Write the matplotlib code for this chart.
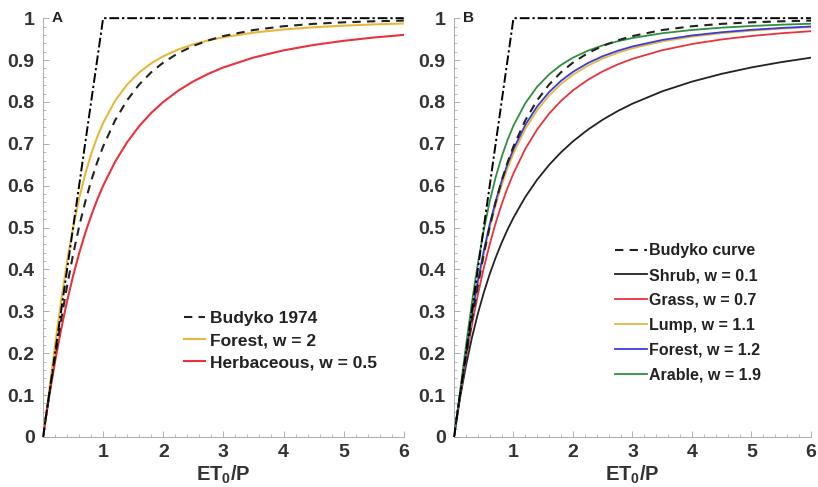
import numpy as np
import matplotlib
matplotlib.use('Agg')
import matplotlib.pyplot as plt
from matplotlib.ticker import MultipleLocator, FixedLocator

plt.rcParams['font.family'] = ['Liberation Sans', 'DejaVu Sans']
plt.rcParams['mathtext.fontset'] = 'custom'
plt.rcParams['mathtext.bf'] = 'Liberation Sans:bold'
plt.rcParams['mathtext.rm'] = 'Liberation Sans:bold'

# ET0/P values where the curves were read
phi = [0, 0.05, 0.1, 0.2, 0.3, 0.4, 0.5, 0.6, 0.7, 0.8, 0.9, 1.0, 1.2, 1.4,
       1.6, 1.8, 2.0, 2.25, 2.5, 2.75, 3.0, 3.5, 4.0, 4.5, 5.0, 5.5, 6.0]

# energy / water limit
limit_x = [0, 1, 6]
limit_y = [0, 1, 1]

budyko = [0, 0.0494, 0.0976, 0.1904, 0.2785, 0.3607, 0.4355, 0.5021, 0.5605,
          0.6113, 0.6555, 0.6938, 0.7564, 0.8044, 0.8417, 0.8709, 0.8940,
          0.9166, 0.9338, 0.9470, 0.9573, 0.9717, 0.9807, 0.9864, 0.9901,
          0.9925, 0.9942]

# panel A
forest_a = [0, 0.0521, 0.1071, 0.2188, 0.3243, 0.4186, 0.5000, 0.5690, 0.6269,
            0.6753, 0.7159, 0.7500, 0.8031, 0.8418, 0.8705, 0.8922, 0.9091,
            0.9252, 0.9375, 0.9470, 0.9545, 0.9655, 0.9730, 0.9783, 0.9821,
            0.9851, 0.9873]
herb_a = [0, 0.0488, 0.0950, 0.1803, 0.2565, 0.3243, 0.3846, 0.4382, 0.4859,
          0.5283, 0.5662, 0.6000, 0.6575, 0.7041, 0.7423, 0.7738, 0.8000,
          0.8270, 0.8491, 0.8672, 0.8824, 0.9059, 0.9231, 0.9360, 0.9459,
          0.9538, 0.9600]

# panel B
shrub = [0, 0.0478, 0.0917, 0.1694, 0.2361, 0.2938, 0.3443, 0.3888, 0.4282,
         0.4635, 0.4952, 0.5238, 0.5734, 0.6148, 0.6499, 0.6799, 0.7059,
         0.7338, 0.7576, 0.7781, 0.7959, 0.8253, 0.8485, 0.8671, 0.8824,
         0.8950, 0.9057]
grass = [0, 0.0492, 0.0967, 0.1857, 0.2663, 0.3386, 0.4030, 0.4600, 0.5105,
         0.5552, 0.5946, 0.6296, 0.6883, 0.7349, 0.7723, 0.8027, 0.8276,
         0.8528, 0.8730, 0.8894, 0.9029, 0.9235, 0.9383, 0.9492, 0.9574,
         0.9639, 0.9689]
lump = [0, 0.0501, 0.0999, 0.1961, 0.2852, 0.3655, 0.4366, 0.4990, 0.5534,
        0.6006, 0.6417, 0.6774, 0.7357, 0.7805, 0.8154, 0.8429, 0.8649,
        0.8866, 0.9036, 0.9171, 0.9281, 0.9443, 0.9558, 0.9640, 0.9701,
        0.9749, 0.9785]
forest_b = [0, 0.0503, 0.1007, 0.1987, 0.2898, 0.3719, 0.4444, 0.5079, 0.5629,
            0.6106, 0.6518, 0.6875, 0.7454, 0.7896, 0.8237, 0.8505, 0.8718,
            0.8928, 0.9091, 0.9220, 0.9324, 0.9479, 0.9587, 0.9664, 0.9722,
            0.9766, 0.9801]
arable = [0, 0.0519, 0.1063, 0.2163, 0.3202, 0.4131, 0.4937, 0.5622, 0.6199,
          0.6684, 0.7092, 0.7436, 0.7974, 0.8367, 0.8660, 0.8883, 0.9057,
          0.9223, 0.9350, 0.9448, 0.9526, 0.9640, 0.9718, 0.9773, 0.9813,
          0.9844, 0.9867]

yellow = '#e6b93c'
red = '#e8323c'
blue = '#3a3ae0'
green = '#2f8f3f'
axcol = '#a0a0a0'
txtcol = '#333333'

fig = plt.figure(figsize=(8.18, 4.87), dpi=100)
axA = fig.add_axes([0.0526, 0.1027, 0.441, 0.860])
axB = fig.add_axes([0.555, 0.1027, 0.4364, 0.860])


def style(ax, letter):
    ax.set_xlim(0, 6)
    ax.set_ylim(0, 1)
    for s in ['top', 'right']:
        ax.spines[s].set_visible(False)
    for s in ['left', 'bottom']:
        ax.spines[s].set_color(axcol)
        ax.spines[s].set_linewidth(0.6)
    ax.xaxis.set_major_locator(FixedLocator([1, 2, 3, 4, 5, 6]))
    ax.xaxis.set_minor_locator(MultipleLocator(0.2))
    ax.yaxis.set_minor_locator(MultipleLocator(0.02))
    ax.set_yticks(np.arange(0, 1.01, 0.1))
    ax.set_yticklabels(['0', '0.1', '0.2', '0.3', '0.4', '0.5', '0.6', '0.7',
                        '0.8', '0.9', '1'])
    ax.tick_params(which='major', direction='in', length=4, width=0.6,
                   color=axcol, labelsize=14, labelcolor=txtcol, pad=6)
    ax.tick_params(axis='x', which='major', pad=5)
    ax.tick_params(which='minor', direction='in', length=2, width=0.5,
                   color=axcol)
    for lab in ax.get_xticklabels() + ax.get_yticklabels():
        lab.set_fontweight('bold')
    ax.set_xlabel(r'$\mathbf{ET_0/P}$', fontsize=14.5, color=txtcol, labelpad=2)
    ax.text(0.025, 1.0, letter, transform=ax.transAxes, fontsize=11,
            fontweight='bold', color='#222222', va='center', ha='left')
    ax.plot(limit_x, limit_y, color='black', lw=1.4, ls=(0, (5, 1.5, 1.2, 1.5)),
            clip_on=False, zorder=5)


style(axA, 'A')
axA.plot(phi, budyko, color='#222222', lw=1.5, ls=(0, (4, 3)), label='Budyko 1974', zorder=4)
axA.plot(phi, forest_a, color=yellow, lw=1.5, label='Forest, w = 2', zorder=3)
axA.plot(phi, herb_a, color=red, lw=1.5, label='Herbaceous, w = 0.5', zorder=3)
legA = axA.legend(loc='upper left', bbox_to_anchor=(0.366, 0.322), frameon=False,
                  fontsize=12.5, handlelength=1.25, handletextpad=0.25,
                  labelspacing=0.4, borderpad=0)
for t in legA.get_texts():
    t.set_fontweight('bold')
    t.set_color('#222222')

style(axB, 'B')
axB.plot(phi, budyko, color='#222222', lw=1.5, ls=(0, (4, 3)), label='Budyko curve', zorder=4)
axB.plot(phi, shrub, color='#222222', lw=1.3, label='Shrub, w = 0.1', zorder=3)
axB.plot(phi, grass, color=red, lw=1.3, label='Grass, w = 0.7', zorder=3)
axB.plot(phi, lump, color=yellow, lw=1.3, label='Lump, w = 1.1', zorder=3)
axB.plot(phi, forest_b, color=blue, lw=1.3, label='Forest, w = 1.2', zorder=3)
axB.plot(phi, arable, color=green, lw=1.3, label='Arable, w = 1.9', zorder=3)
legB = axB.legend(loc='upper left', bbox_to_anchor=(0.428, 0.482), frameon=False,
                  fontsize=11.5, handlelength=2.0, handletextpad=0.12,
                  labelspacing=0.62, borderpad=0)
for t in legB.get_texts():
    t.set_fontweight('bold')
    t.set_color('#222222')

fig.savefig('out.png', dpi=100)
